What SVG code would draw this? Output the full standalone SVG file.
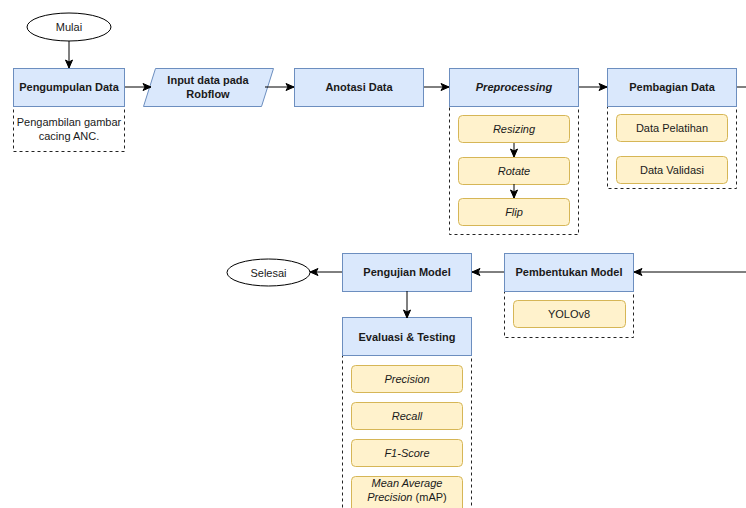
<svg xmlns="http://www.w3.org/2000/svg" width="746" height="508" viewBox="0 0 746 508">
<defs>
<marker id="ah" markerWidth="10" markerHeight="10" viewBox="0 0 10 10" refX="9" refY="5" orient="auto" markerUnits="userSpaceOnUse">
<path d="M1,1.5 L9,5 L1,8.5 L3,5 Z" fill="#000" stroke="#000" stroke-width="1"/>
</marker>
</defs>
<style>
text{font-family:"Liberation Sans",Arial,Helvetica,sans-serif;font-size:11px;fill:#1a1a1a;text-anchor:middle;dominant-baseline:central}
.b{font-weight:bold}
.i{font-style:italic}
.main{fill:#dae8fc;stroke:#6c8ebf;stroke-width:1}
.sub{fill:#fff2cc;stroke:#d6b656;stroke-width:1}
.dash{fill:none;stroke:#222;stroke-width:1;stroke-dasharray:3 3}
.term{fill:#fff;stroke:#000;stroke-width:1}
.c{fill:none;stroke:#000;stroke-width:1}
.ca{fill:none;stroke:#000;stroke-width:1;marker-end:url(#ah)}
</style>
<rect width="746" height="508" fill="#fff"/>
<g id="mulai">
<ellipse class="term" cx="69" cy="27" rx="42" ry="14"/>
<text x="69" y="27">Mulai</text>
</g>
<g id="pengumpulan">
<rect class="dash" x="13.5" y="106.5" width="111" height="45"/>
<rect class="main" x="13.5" y="68.5" width="111" height="38"/>
<text class="b" x="69" y="87">Pengumpulan Data</text>
<text x="69" y="122">Pengambilan gambar</text>
<text x="69" y="136">cacing ANC.</text>
</g>
<g id="input">
<polygon class="main" points="155.5,68.5 273.5,68.5 261.5,106.5 143.5,106.5"/>
<text class="b" x="208" y="80">Input data pada</text>
<text class="b" x="208" y="94">Robflow</text>
</g>
<g id="anotasi">
<rect class="main" x="294.5" y="68.5" width="129" height="38"/>
<text class="b" x="359" y="87">Anotasi Data</text>
</g>
<g id="preprocessing">
<rect class="dash" x="449.5" y="106.5" width="129" height="128"/>
<rect class="main" x="449.5" y="68.5" width="129" height="38"/>
<text class="b i" x="514" y="87">Preprocessing</text>
<rect class="sub" x="458.5" y="115.5" width="111" height="27" rx="4"/>
<text class="i" x="514" y="129">Resizing</text>
<rect class="sub" x="458.5" y="157.5" width="111" height="27" rx="4"/>
<text class="i" x="514" y="171">Rotate</text>
<rect class="sub" x="458.5" y="198.5" width="111" height="27" rx="4"/>
<text class="i" x="514" y="212">Flip</text>
</g>
<g id="pembagian">
<rect class="dash" x="607.5" y="106.5" width="129" height="82"/>
<rect class="main" x="607.5" y="68.5" width="129" height="38"/>
<text class="b" x="672" y="87">Pembagian Data</text>
<rect class="sub" x="616.5" y="114.5" width="111" height="27" rx="4"/>
<text x="672" y="128">Data Pelatihan</text>
<rect class="sub" x="616.5" y="156.5" width="111" height="27" rx="4"/>
<text x="672" y="170">Data Validasi</text>
</g>
<g id="pembentukan">
<rect class="dash" x="504.5" y="291.5" width="129" height="46"/>
<rect class="main" x="504.5" y="253.5" width="129" height="38"/>
<text class="b" x="569" y="272">Pembentukan Model</text>
<rect class="sub" x="513.5" y="300.5" width="112" height="27" rx="4"/>
<text x="569" y="314">YOLOv8</text>
</g>
<g id="pengujian">
<rect class="main" x="342.5" y="253.5" width="129" height="38"/>
<text class="b" x="407" y="272">Pengujian Model</text>
</g>
<g id="selesai">
<ellipse class="term" cx="268.5" cy="272.5" rx="41.5" ry="13.5"/>
<text x="268.5" y="272.5">Selesai</text>
</g>
<g id="evaluasi">
<rect class="dash" x="342.5" y="355.5" width="129" height="160"/>
<rect class="main" x="342.5" y="317.5" width="129" height="38"/>
<text class="b" x="407" y="337">Evaluasi &amp; Testing</text>
<rect class="sub" x="351.5" y="365.5" width="111" height="27" rx="4"/>
<text class="i" x="407" y="379">Precision</text>
<rect class="sub" x="351.5" y="402.5" width="111" height="27" rx="4"/>
<text class="i" x="407" y="416">Recall</text>
<rect class="sub" x="351.5" y="439.5" width="111" height="27" rx="4"/>
<text class="i" x="407" y="453">F1-Score</text>
<rect class="sub" x="351.5" y="476.5" width="111" height="36" rx="4"/>
<text class="i" x="407" y="483">Mean Average</text>
<text x="407" y="497"><tspan class="i">Precision</tspan> (mAP)</text>
</g>
<g id="connectors">
<path class="ca" d="M69,41 V68"/>
<path class="ca" d="M125,87 H151"/>
<path class="ca" d="M265,87 H294"/>
<path class="ca" d="M424,87 H449"/>
<path class="ca" d="M579,87 H607"/>
<path class="c" d="M737,87 H746"/>
<path class="ca" d="M514,143 V157"/>
<path class="ca" d="M514,184 V198"/>
<path class="ca" d="M746,272 H634"/>
<path class="ca" d="M504,272 H472"/>
<path class="ca" d="M342,272 H310"/>
<path class="ca" d="M407,291 V318"/>
</g>
</svg>
